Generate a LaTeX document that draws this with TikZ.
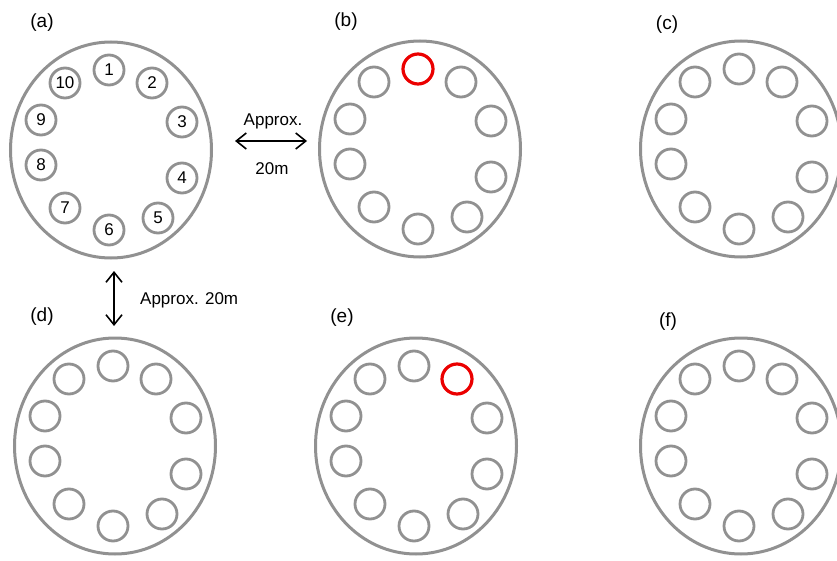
\documentclass[tikz,border=0pt]{standalone}
\usepackage{fontspec}
\setmainfont{Liberation Sans}
\usetikzlibrary{arrows.meta,calc,shapes.geometric}
\definecolor{ringgray}{RGB}{145,145,145}
\definecolor{hotred}{RGB}{235,0,0}
\tikzset{
  outer/.style={ellipse, draw=ringgray, line width=3pt, minimum width=201pt, minimum height=216pt, inner sep=0pt},
  well/.style={circle, draw=ringgray, line width=2.8pt, minimum size=30pt, inner sep=0pt, font=\fontsize{17}{17}\selectfont},
  redwell/.style={well, draw=hotred, line width=3.2pt},
  lbl/.style={font=\fontsize{17}{20}\selectfont, inner sep=0pt},
  panel/.style={font=\fontsize{19}{22}\selectfont, inner sep=0pt},
  dist/.style={draw=black, line width=1.6pt, {Straight Barb[length=10pt,width=16pt]}-{Straight Barb[length=10pt,width=16pt]}}
}
\newcommand{\wellring}[3]{%
  \foreach \i/\dx/\dy in {1/-2/-80,2/41/-67,3/71/-28,4/71/28,5/47/68,6/-2/80,7/-46/58,8/-70/15,9/-70/-30,10/-46/-67}{
    \ifnum\i=#3 \tikzset{cur/.style={redwell}}\else\tikzset{cur/.style={well}}\fi
    \node[cur] (#1\i) at ($(#2.center)+(\dx,\dy)$) {};
  }}
\begin{document}
\begin{tikzpicture}[x=1pt,y=-1pt]
\useasboundingbox (0,0) rectangle (837,561);
% outer plots
\node[outer] (A) at (111,150) {};
\node[outer] (B) at (420,149) {};
\node[outer] (C) at (741,149) {};
\node[outer] (D) at (115,446) {};
\node[outer] (E) at (416,446) {};
\node[outer] (F) at (741,446) {};
% panel labels
\node[panel] (la) at (42,23) {(a)};
\node[panel] (lb) at (346,22) {(b)};
\node[panel] (lc) at (667,25) {(c)};
\node[panel] (ld) at (42,317) {(d)};
\node[panel] (le) at (342,318) {(e)};
\node[panel] (lf) at (668,322) {(f)};
% numbered wells in (a)
\foreach \i/\dx/\dy in {1/-2/-80,2/41/-67,3/71/-28,4/71/28,5/47/68,6/-2/80,7/-46/58,8/-70/15,9/-70/-30,10/-46/-67}{
  \node[well] (a\i) at ($(A.center)+(\dx,\dy)$) {\i};
}
\wellring{b}{B}{1}
\wellring{c}{C}{0}
\wellring{d}{D}{0}
\wellring{e}{E}{2}
\wellring{f}{F}{0}
% distance arrows
\coordinate (h1) at (235,141);
\coordinate (h2) at (307,141);
\draw[dist] (h1) -- (h2);
\node[lbl] (happ) at (273,121) {Approx.};
\node[lbl] (h20) at (272,169) {20m};
\coordinate (v1) at (114,271);
\coordinate (v2) at (114,326);
\draw[dist] (v1) -- (v2);
\node[lbl, anchor=west] (vlab) at (140,300) {Approx. 20m};
\end{tikzpicture}
\end{document}
